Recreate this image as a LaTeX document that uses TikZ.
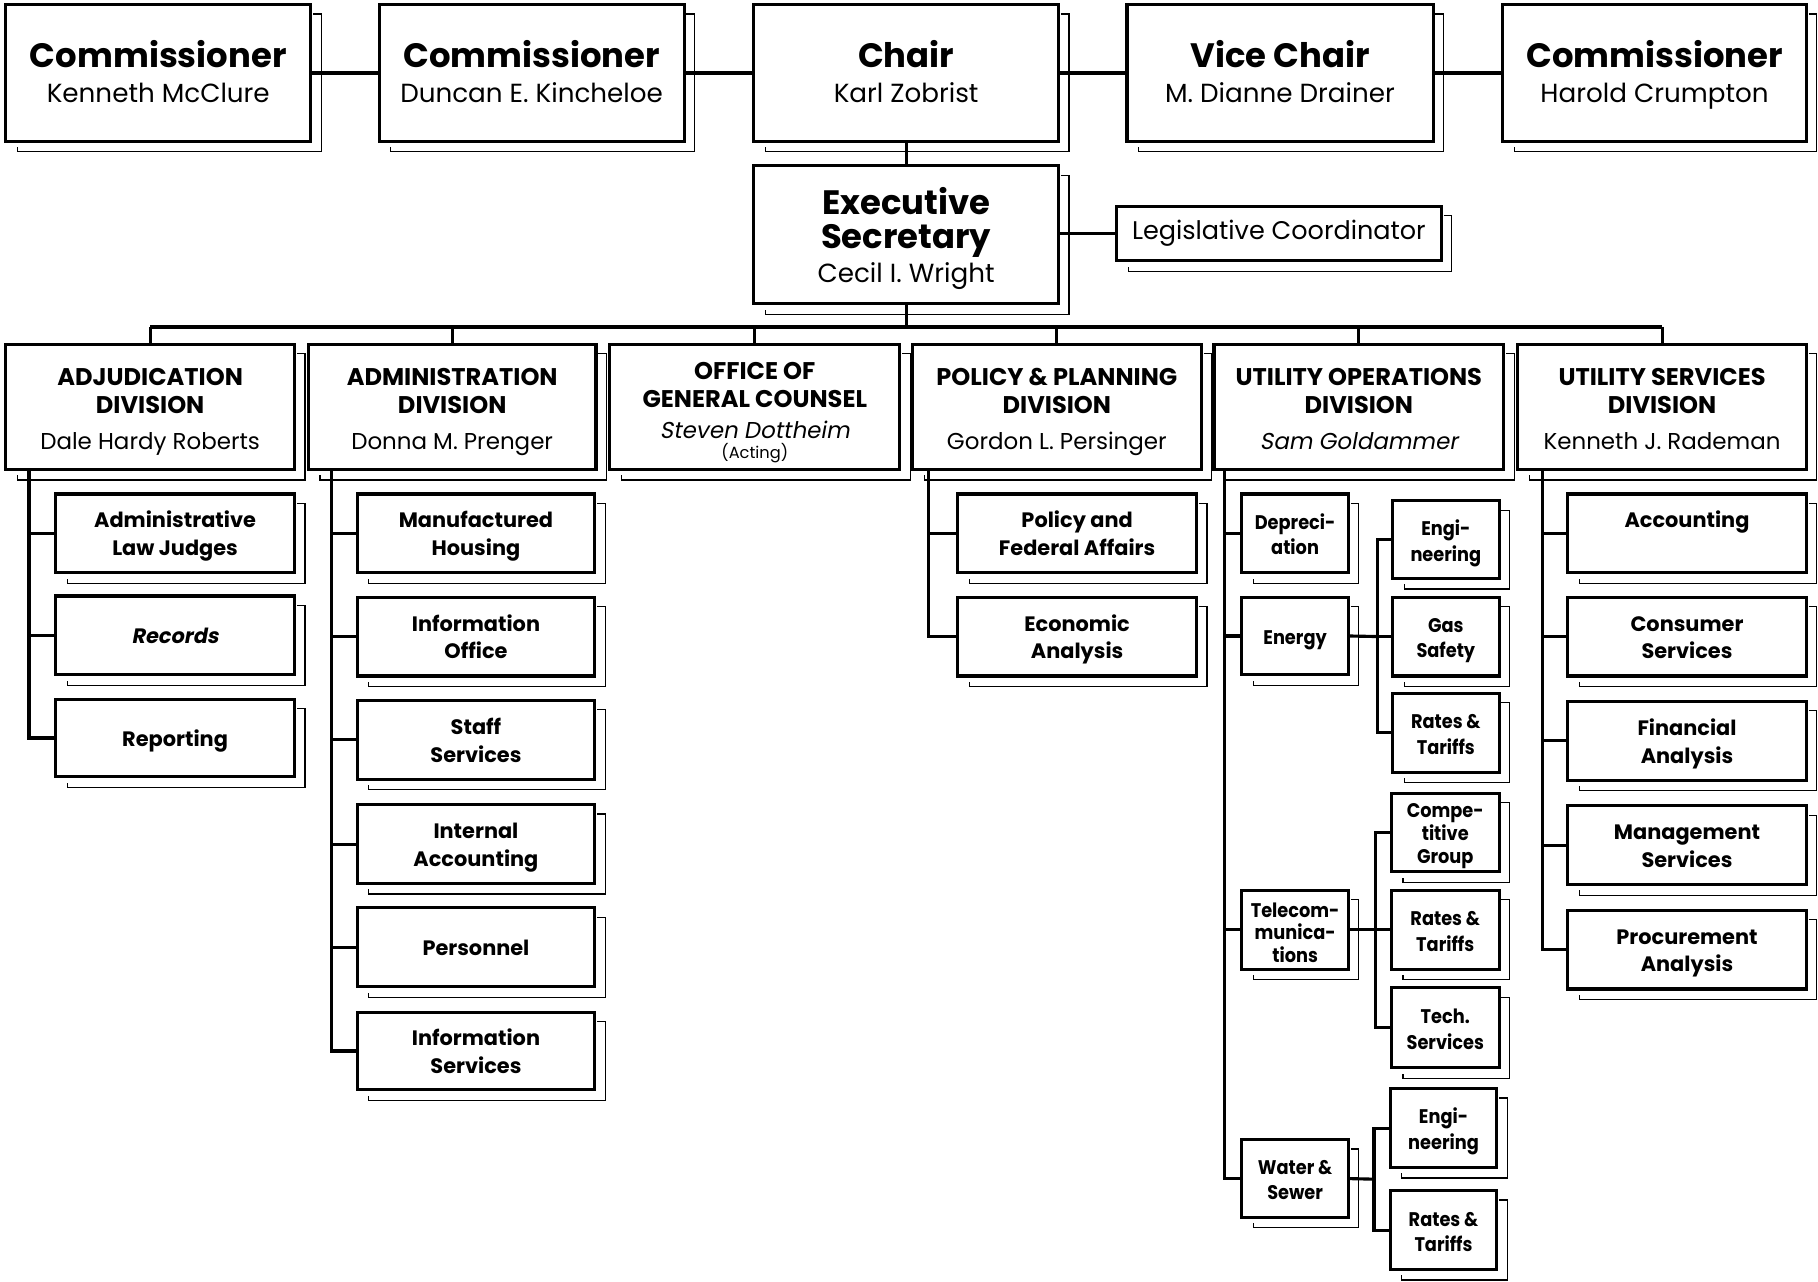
\documentclass[tikz,border=0pt]{standalone}
\usepackage{fontspec}
\setmainfont{Poppins}
\newfontfamily\slfont[FakeSlant=0.18]{Poppins}
\newfontfamily\cndfont[FakeStretch=0.9]{Poppins}
\newcommand\ttltop{\bfseries\fontsize{14.6}{15}\selectfont}
\newcommand\nmtop{\mdseries\fontsize{11.3}{13}\selectfont}
\newcommand\nmleg{\mdseries\fontsize{11}{13}\selectfont}
\newcommand\ttldiv{\bfseries\fontsize{10.4}{12}\selectfont}
\newcommand\nmdiv{\mdseries\fontsize{9.9}{11}\selectfont}
\newcommand\ttlsub{\bfseries\fontsize{9}{12}\selectfont}
\newcommand\ttlsm{\cndfont\bfseries\fontsize{8.5}{11}\selectfont}
\newcommand\ttlsmthree{\cndfont\bfseries\fontsize{8.5}{9.8}\selectfont}
\newcommand\tfix[1]{\rule{0pt}{#1}}
\newcommand\mybox[7]{\node[#6,minimum width={(#4-#2)*0.5pt},minimum height={(#5-#3)*0.5pt}] (#1) at ({(#2+#4)/2},{(#3+#5)/2}) {#7};}
\newcommand\mkshadow[1]{\draw[shd] ([xshift=1pt,yshift=-4pt]#1.north east) -- ([xshift=4.5pt,yshift=-4pt]#1.north east) -- ([xshift=4.5pt,yshift=-4.5pt]#1.south east) -- ([xshift=5pt,yshift=-4.5pt]#1.south west) -- ([xshift=5pt,yshift=-2.5pt]#1.south west);}
\tikzset{
  bx/.style={draw, line width=1.35pt, fill=white, inner sep=0pt, outer sep=0pt, align=center},
  topbox/.style={bx, font=\ttltop},
  legbox/.style={bx, font=\nmleg},
  divbox/.style={bx, font=\ttldiv},
  subbox/.style={bx, font=\ttlsub},
  smbox/.style={bx, font=\ttlsm},
  smthree/.style={bx, font=\ttlsmthree},
  conn/.style={line width=1.35pt},
  shd/.style={line width=0.5pt},
}
\begin{document}
\begin{tikzpicture}[x=0.5pt,y=-0.5pt]
\useasboundingbox (0,0) rectangle (1568,1105);
% top row
\mybox{c1}{5}{4}{268}{122}{topbox}{\tfix{14.5pt}Commissioner\\{\nmtop\strut Kenneth McClure}}
\mybox{c2}{327}{4}{590}{122}{topbox}{\tfix{14.5pt}Commissioner\\{\nmtop\strut Duncan E. Kincheloe}}
\mybox{chair}{650}{4}{913}{122}{topbox}{\tfix{14.5pt}Chair\\{\nmtop\strut Karl Zobrist}}
\mybox{vc}{972}{4}{1236}{122}{topbox}{\tfix{14.5pt}Vice Chair\\{\nmtop\strut M. Dianne Drainer}}
\mybox{c3}{1296}{4}{1558}{122}{topbox}{\tfix{14.5pt}Commissioner\\{\nmtop\strut Harold Crumpton}}
\mybox{exec}{650}{143}{913}{262}{topbox}{\tfix{15.5pt}\strut Executive\\\strut Secretary\\[-0.5pt]{\nmtop\strut Cecil I. Wright}}
\mybox{legis}{963}{178}{1243}{225}{legbox}{\strut Legislative Coordinator}
% divisions
\mybox{adj}{5}{297}{254}{405}{divbox}{\tfix{12.4pt}\strut ADJUDICATION\\\strut DIVISION\\[3.5pt]{\nmdiv\strut Dale Hardy Roberts}}
\mybox{adm}{266}{297}{514}{405}{divbox}{\tfix{12.4pt}\strut ADMINISTRATION\\\strut DIVISION\\[3.5pt]{\nmdiv\strut Donna M. Prenger}}
\mybox{ogc}{526}{297}{776}{405}{divbox}{\tfix{12.4pt}\strut OFFICE OF\\\strut GENERAL COUNSEL\\[1.5pt]{\slfont\nmdiv Steven Dottheim}\\[-3.5pt]{\mdseries\fontsize{7}{8}\selectfont (Acting)\vphantom{y}}}
\mybox{ppd}{787}{297}{1036}{405}{divbox}{\tfix{12.4pt}\strut POLICY \& PLANNING\\\strut DIVISION\\[3.5pt]{\nmdiv\strut Gordon L. Persinger}}
\mybox{uod}{1047}{297}{1297}{405}{divbox}{\tfix{12.4pt}\strut UTILITY OPERATIONS\\\strut DIVISION\\[3.5pt]{\slfont\nmdiv\strut Sam Goldammer}}
\mybox{usd}{1309}{297}{1558}{405}{divbox}{\tfix{12.4pt}\strut UTILITY SERVICES\\\strut DIVISION\\[3.5pt]{\nmdiv\strut Kenneth J. Rademan}}
% adjudication children
\mybox{alj}{48}{426}{254}{494}{subbox}{\tfix{10.9pt}\strut Administrative\\\strut Law Judges}
\mybox{rec}{48}{514}{254}{582}{subbox}{\tfix{10.9pt}\slfont\strut Records}
\mybox{rep}{48}{603}{254}{670}{subbox}{\tfix{10.9pt}\strut Reporting}
% administration children
\mybox{mh}{308}{426}{513}{494}{subbox}{\tfix{10.9pt}\strut Manufactured\\\strut Housing}
\mybox{io}{308}{515}{513}{583}{subbox}{\tfix{10.9pt}\strut Information\\\strut Office}
\mybox{ss}{308}{604}{513}{672}{subbox}{\tfix{10.9pt}\strut Staff\\\strut Services}
\mybox{ia}{308}{694}{513}{762}{subbox}{\tfix{10.9pt}\strut Internal\\\strut Accounting}
\mybox{per}{308}{783}{513}{851}{subbox}{\tfix{10.9pt}\strut Personnel}
\mybox{is}{308}{873}{513}{940}{subbox}{\tfix{10.9pt}\strut Information\\\strut Services}
% policy children
\mybox{pfa}{826}{426}{1032}{494}{subbox}{\tfix{10.9pt}\strut Policy and\\\strut Federal Affairs}
\mybox{ea}{826}{515}{1032}{583}{subbox}{\tfix{10.9pt}\strut Economic\\\strut Analysis}
% utility operations
\mybox{dep}{1071}{426}{1163}{494}{smbox}{\tfix{10.7pt}\strut Depreci-\\\strut ation}
\mybox{en}{1071}{515}{1163}{582}{smbox}{\tfix{10.7pt}\strut Energy}
\mybox{tel}{1071}{768}{1163}{836}{smthree}{\tfix{11.5pt}\strut Telecom-\\\strut munica-\\\strut tions}
\mybox{ws}{1071}{983}{1163}{1050}{smbox}{\tfix{10.7pt}\strut Water \&\\\strut Sewer}
\mybox{eng}{1201}{432}{1293}{499}{smbox}{\tfix{10.7pt}\strut Engi-\\\strut neering}
\mybox{gs}{1201}{515}{1293}{583}{smbox}{\tfix{10.7pt}\strut Gas\\\strut Safety}
\mybox{rt}{1201}{598}{1293}{666}{smbox}{\tfix{10.7pt}\strut Rates \&\\\strut Tariffs}
\mybox{cg}{1200}{684}{1293}{752}{smthree}{\tfix{10pt}\strut Compe-\\\strut titive\\\strut Group}
\mybox{trt}{1200}{768}{1293}{836}{smbox}{\tfix{10.7pt}\strut Rates \&\\\strut Tariffs}
\mybox{ts}{1200}{852}{1293}{921}{smbox}{\tfix{10.7pt}\strut Tech.\\\strut Services}
\mybox{weng}{1199}{939}{1291}{1007}{smbox}{\tfix{10.7pt}\strut Engi-\\\strut neering}
\mybox{wrt}{1199}{1027}{1291}{1095}{smbox}{\tfix{10.7pt}\strut Rates \&\\\strut Tariffs}
% utility services
\mybox{acc}{1352}{426}{1558}{494}{subbox}{\tfix{10.4pt}\strut Accounting\\\strut}
\mybox{cs}{1352}{515}{1558}{583}{subbox}{\tfix{10.9pt}\strut Consumer\\\strut Services}
\mybox{fa}{1352}{605}{1558}{673}{subbox}{\tfix{10.9pt}\strut Financial\\\strut Analysis}
\mybox{ms}{1352}{695}{1558}{763}{subbox}{\tfix{10.9pt}\strut Management\\\strut Services}
\mybox{pa}{1352}{785}{1558}{853}{subbox}{\tfix{10.9pt}\strut Procurement\\\strut Analysis}
% shadows
\foreach \n in {c1,c2,chair,vc,c3,exec,legis,adj,adm,ogc,ppd,uod,usd,alj,rec,rep,mh,io,ss,ia,per,is,pfa,ea,dep,en,tel,ws,eng,gs,rt,cg,trt,ts,weng,wrt,acc,cs,fa,ms,pa}{\mkshadow{\n}}
% connectors top
\draw[conn] (c1.east) -- (c2.west);
\draw[conn] (c2.east) -- (chair.west);
\draw[conn] (chair.east) -- (vc.west);
\draw[conn] (vc.east) -- (c3.west);
\draw[conn] (chair.south) -- (exec.north);
\draw[conn] (legis.west -| exec.east) -- (legis.west);
\coordinate (bus) at (785,282);
\draw[conn] (exec.south) -- (exec.south |- bus);
\draw[conn] (adj.north |- bus) -- (usd.north |- bus);
\foreach \d in {adj,adm,ogc,ppd,uod,usd}{\draw[conn] (\d.north |- bus) -- (\d.north);}
% division spines
\coordinate (adjS) at (25,405);
\foreach \c in {alj,rec,rep}{\draw[conn] (adjS) |- (\c.west);}
\coordinate (admS) at (286,405);
\foreach \c in {mh,io,ss,ia,per,is}{\draw[conn] (admS) |- (\c.west);}
\coordinate (ppdS) at (801,405);
\foreach \c in {pfa,ea}{\draw[conn] (ppdS) |- (\c.west);}
\coordinate (uodS) at (1056,405);
\foreach \c in {dep,en,tel,ws}{\draw[conn] (uodS) |- (\c.west);}
\coordinate (usdS) at (1330,405);
\foreach \c in {acc,cs,fa,ms,pa}{\draw[conn] (usdS) |- (\c.west);}
% sub spines
\coordinate (enJ) at (1188,549);
\draw[conn] (en.east) -- (enJ);
\foreach \c in {eng,gs,rt}{\draw[conn] (enJ) |- (\c.west);}
\coordinate (telJ) at (1186,802);
\draw[conn] (tel.east) -- (telJ);
\foreach \c in {cg,trt,ts}{\draw[conn] (telJ) |- (\c.west);}
\coordinate (wsJ) at (1185,1017);
\draw[conn] (ws.east) -- (wsJ);
\foreach \c in {weng,wrt}{\draw[conn] (wsJ) |- (\c.west);}
\end{tikzpicture}
\end{document}
